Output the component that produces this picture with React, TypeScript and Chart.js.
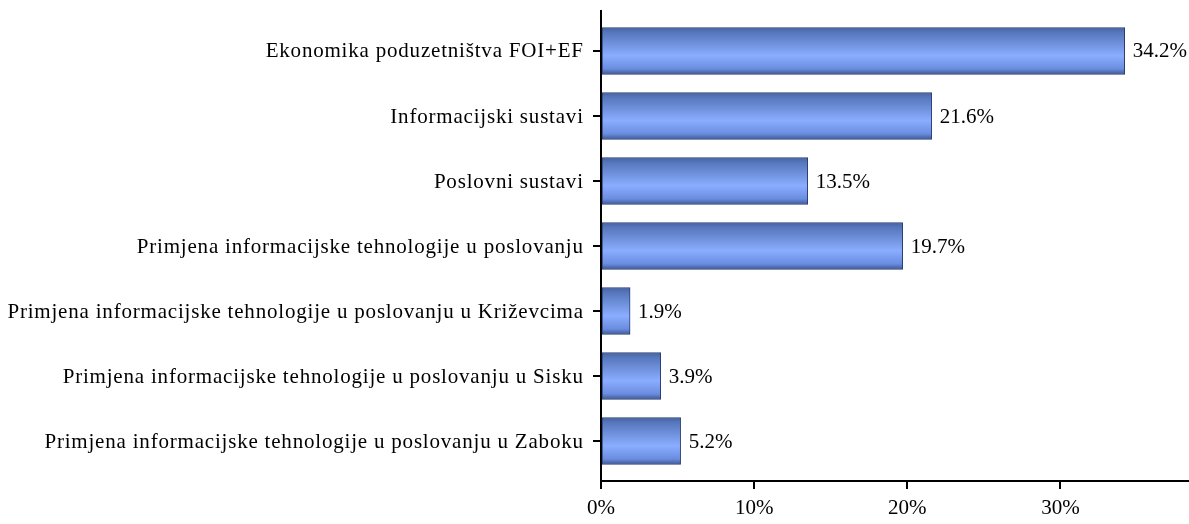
import React, { useEffect, useRef } from "react";
import { Chart, registerables } from "chart.js";

Chart.register(...registerables);

const categories = [
  "Ekonomika poduzetništva FOI+EF",
  "Informacijski sustavi",
  "Poslovni sustavi",
  "Primjena informacijske tehnologije u poslovanju",
  "Primjena informacijske tehnologije u poslovanju u Križevcima",
  "Primjena informacijske tehnologije u poslovanju u Sisku",
  "Primjena informacijske tehnologije u poslovanju u Zaboku",
];
const values = [34.2, 21.6, 13.5, 19.7, 1.9, 3.9, 5.2];
const xTicks = [0, 10, 20, 30];

const FONT = "'Liberation Serif', 'Times New Roman', serif";
const FONT_SIZE = 21;

export default function App() {
  const ref = useRef<HTMLCanvasElement | null>(null);

  useEffect(() => {
    if (!ref.current) return;
    const labelPlugin = {
      id: "valueLabels",
      afterDraw(chart: any) {
        const ctx = chart.ctx;
        const meta = chart.getDatasetMeta(0);
        const ys = chart.scales.y;
        ctx.save();
        ctx.font = `${FONT_SIZE}px ${FONT}`;
        ctx.fillStyle = "#000";
        ctx.textBaseline = "middle";
        ctx.textAlign = "left";
        meta.data.forEach((bar: any, i: number) => {
          ctx.fillText(values[i].toFixed(1) + "%", bar.x + 8, bar.y + 1);
        });
        // category labels with slight letter spacing
        (ctx as any).letterSpacing = "0.8px";
        categories.forEach((c, i) => {
          const w = ctx.measureText(c).width - 0.8;
          const y = ys.getPixelForValue(i);
          ctx.fillText(c, chart.chartArea.left - 18 - w, y + 1);
        });
        ctx.restore();
      },
    };

    const chart = new Chart(ref.current, {
      type: "bar",
      data: {
        datasets: [
          {
            data: values.map((v, i) => ({ x: v, y: i })),
            barThickness: 47,
            borderWidth: 1,
            borderColor: "#2a3d70",
            borderSkipped: false,
            backgroundColor: (c: any) => {
              const chart = c.chart;
              const ys = chart.scales && chart.scales.y;
              if (!ys || c.dataIndex === undefined) return "#7c9eef";
              const cy = ys.getPixelForValue(c.dataIndex);
              if (!isFinite(cy)) return "#7c9eef";
              const g = chart.ctx.createLinearGradient(0, cy - 23.5, 0, cy + 23.5);
              g.addColorStop(0, "#4562a2");
              g.addColorStop(0.1, "#5676bb");
              g.addColorStop(0.6, "#8aadff");
              g.addColorStop(0.88, "#6a8de0");
              g.addColorStop(1, "#3c5792");
              return g;
            },
          } as any,
        ],
      },
      options: {
        indexAxis: "y",
        animation: false,
        responsive: false,
        maintainAspectRatio: false,
        layout: { padding: { top: 11, left: 0, right: 0, bottom: 0 } },
        plugins: { legend: { display: false }, tooltip: { enabled: false } },
        scales: {
          x: {
            type: "linear",
            min: 0,
            max: 38.4,
            afterBuildTicks: (s: any) => {
              s.ticks = xTicks.map((v) => ({ value: v }));
            },
            afterFit: (s: any) => {
              s.height = 43;
            },
            grid: {
              drawOnChartArea: false,
              drawTicks: true,
              tickLength: 8,
              color: "#000",
              lineWidth: 2,
            },
            border: { display: true, color: "#000", width: 2 },
            ticks: {
              color: "#000",
              font: { family: FONT, size: FONT_SIZE },
              padding: 7,
              maxRotation: 0,
              callback: (v: any) => v + "%",
            },
          },
          y: {
            type: "linear",
            reverse: true,
            offset: false,
            min: -0.615,
            max: 6.615,
            afterBuildTicks: (s: any) => {
              s.ticks = categories.map((_, i) => ({ value: i }));
            },
            afterFit: (s: any) => {
              s.width = 601;
            },
            grid: {
              offset: false,
              drawOnChartArea: false,
              drawTicks: true,
              tickLength: 8,
              color: "#000",
              lineWidth: 2,
            },
            border: { display: true, color: "#000", width: 2 },
            ticks: {
              display: false,
            },
          },
        },
      } as any,
      plugins: [labelPlugin],
    });
    return () => chart.destroy();
  }, []);

  return (
    <div
      style={{
        position: "fixed",
        left: 0,
        top: 0,
        width: 1189,
        height: 524,
        background: "#fff",
      }}
    >
      <canvas ref={ref} width={1189} height={524} style={{ width: 1189, height: 524 }} />
    </div>
  );
}
